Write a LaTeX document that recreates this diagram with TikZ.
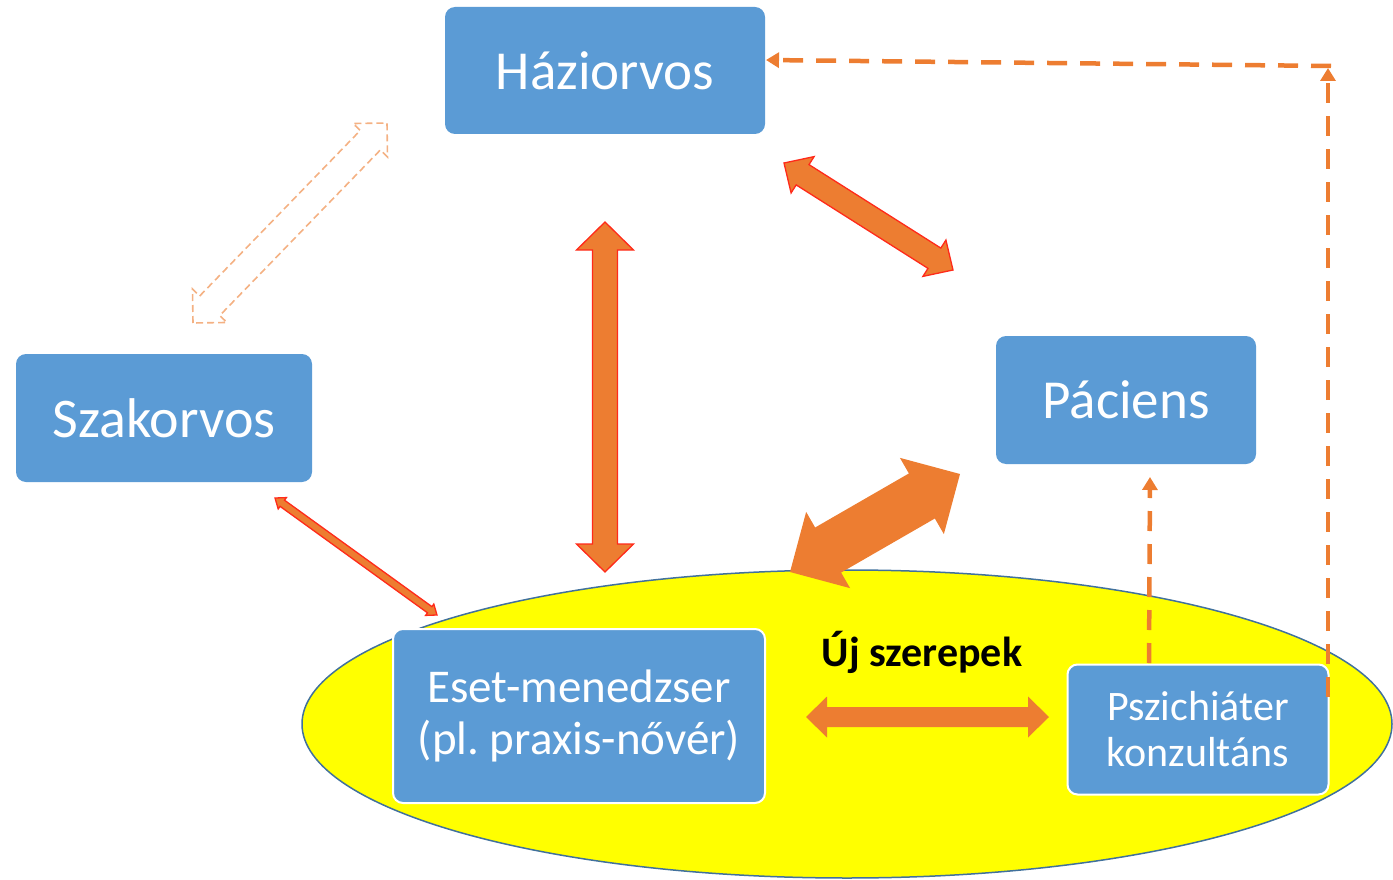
\documentclass[tikz,border=0pt]{standalone}
\usepackage{fontspec}
\setmainfont{Carlito}
\usetikzlibrary{calc,arrows.meta,shapes.geometric}
\definecolor{boxblue}{HTML}{5B9BD5}
\definecolor{arrorange}{HTML}{ED7D31}
\definecolor{lightorange}{HTML}{F4B183}
\definecolor{ellborder}{HTML}{41719C}
\definecolor{yel}{HTML}{FFFF00}
\definecolor{redline}{HTML}{FF2A1A}
\frenchspacing
\tikzset{
  rolebox/.style={fill=boxblue, rounded corners=10pt, text=white, align=center, inner sep=0pt},
  bigtext/.style={font=\fontsize{55}{60}\selectfont},
  wborder/.style={draw=white, line width=2pt},
  fatarrow/.style={fill=arrorange, draw=redline, line width=1.3pt, line join=miter},
  plainarrow/.style={fill=arrorange, draw=none},
  hollowarrow/.style={draw=lightorange, line width=1.6pt, dash pattern=on 7pt off 4pt, fill=none},
  dashconn/.style={draw=arrorange, line width=4.5pt, dash pattern=on 20pt off 13pt, -{Triangle[length=13pt,width=15pt]}},
}
% double arrow polygon: #1 style, #2 A, #3 B, #4 half shaft, #5 half head, #6 head length
\newcommand\dblarr[6]{%
  \path ($(#2)!#6!(#3)$) coordinate (da2) ($(#3)!#6!(#2)$) coordinate (da3);
  \draw[#1] (#2) -- ($(da2)!#5!90:(#3)$) -- ($(da2)!#4!90:(#3)$) -- ($(da3)!#4!-90:(#2)$) -- ($(da3)!#5!-90:(#2)$) -- (#3) -- ($(da3)!#5!90:(#2)$) -- ($(da3)!#4!90:(#2)$) -- ($(da2)!#4!-90:(#3)$) -- ($(da2)!#5!-90:(#3)$) -- cycle;
}
\begin{document}
\begin{tikzpicture}[x=1pt,y=-1pt]
\useasboundingbox (0,0) rectangle (1393,880);
% ellipse
\node[draw=ellborder, line width=1.5pt, fill=yel, ellipse, minimum width=1090pt, minimum height=308pt, inner sep=0pt] (ell) at (847,724) {};
% boxes
\node[rolebox, bigtext, minimum width=320pt, minimum height=127pt] (hazi) at (605,70.5) {Háziorvos};
\node[rolebox, font=\fontsize{56}{60}\selectfont, minimum width=296pt, minimum height=128pt] (szak) at (164,418) {Szakorvos};
\node[rolebox, bigtext, minimum width=260pt, minimum height=128pt] (pac) at (1126,400) {Páciens};
\node[rolebox, wborder, font=\fontsize{47}{52}\selectfont, minimum width=372pt, minimum height=174pt] (eset) at (579,716) {Eset-menedzser\\(pl. praxis-nővér)};
\node[rolebox, wborder, font=\fontsize{42}{46}\selectfont, minimum width=261pt, minimum height=130pt] (psz) at (1198,729.5) {Pszichiáter\\konzultáns};
\node[font=\bfseries\fontsize{42}{46}\selectfont, text=black] (uj) at (922,652) {Új szerepek};
% arrow end points
\coordinate (hollowA) at (193,323);
\coordinate (hollowB) at (387,123);
\coordinate (vA) at (605,222);
\coordinate (vB) at (605,572);
\coordinate (hpA) at (784,163);
\coordinate (hpB) at (953,270);
\coordinate (seA) at (275,498);
\coordinate (seB) at (437,615);
\coordinate (peA) at (960,474);
\coordinate (peB) at (790,572);
\coordinate (hzA) at (806,717);
\coordinate (hzB) at (1049,717);
% arrows
\dblarr{hollowarrow}{hollowA}{hollowB}{14pt}{24pt}{24pt}
\dblarr{fatarrow}{vA}{vB}{12.5pt}{28.5pt}{28pt}
\dblarr{fatarrow}{hpA}{hpB}{12pt}{21.5pt}{22pt}
\dblarr{fatarrow}{seA}{seB}{3.8pt}{7pt}{9pt}
\dblarr{plainarrow}{peA}{peB}{26pt}{44pt}{44pt}
\dblarr{plainarrow}{hzA}{hzB}{10pt}{20.5pt}{21pt}
% dashed connectors
\coordinate (pszR) at (1328,697);
\coordinate (cornerUp) at (1328,68);
\coordinate (cornerL) at (1331,66);
\coordinate (haziR) at (766,60);
\draw[dashconn] (pszR) -- (cornerUp);
\draw[dashconn] (cornerL) -- (haziR);
\coordinate (pszT) at (1149,663);
\coordinate (pacB) at (1150,477);
\draw[dashconn] (pszT) -- (pacB);
\end{tikzpicture}
\end{document}
